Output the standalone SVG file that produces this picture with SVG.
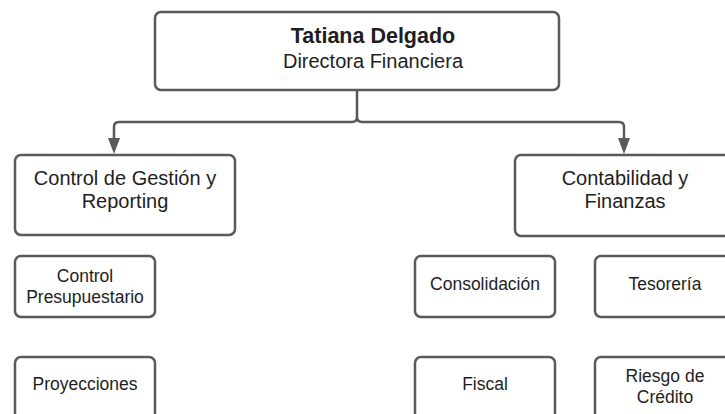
<svg xmlns="http://www.w3.org/2000/svg" width="725" height="414" viewBox="0 0 725 414">
<style>
.box{fill:#fff;stroke:#5a5a5a;stroke-width:2.5}
.t{font-family:"Liberation Sans",Arial,sans-serif;fill:#1e1e1e;text-anchor:middle}
.big{font-size:20px}
.sm{font-size:17.5px}
.con{fill:none;stroke:#5a5a5a;stroke-width:2.5}
</style>
<defs>
<marker id="arr" markerWidth="10" markerHeight="14" refX="5" refY="14" orient="auto-start-reverse" markerUnits="userSpaceOnUse" viewBox="0 0 10 14">
<path d="M0,0 L10,0 L5,14 Z" fill="#5a5a5a"/>
</marker>
</defs>
<rect width="725" height="414" fill="#fff"/>
<g id="connectors">
<path class="con" d="M357,90 V117 Q357,122 352,122 H119 Q114,122 114,127 V139"/>
<path class="con" d="M357,117 Q357,122 362,122 H619 Q624,122 624,127 V139"/>
<path d="M108,138 L120,138 L114,154 Z" fill="#5a5a5a"/>
<path d="M618,138 L630,138 L624,154 Z" fill="#5a5a5a"/>
</g>
<g id="director">
<rect class="box" x="155" y="12" width="404" height="78" rx="6"/>
<text class="t" x="373" y="43" font-size="21.5" font-weight="bold">Tatiana Delgado</text>
<text class="t big" x="373" y="68">Directora Financiera</text>
</g>
<g id="control-gestion">
<rect class="box" x="15" y="155" width="220" height="80" rx="6"/>
<text class="t big" x="125" y="185">Control de Gestión y</text>
<text class="t big" x="125" y="208">Reporting</text>
</g>
<g id="contabilidad">
<rect class="box" x="515" y="155" width="220" height="81" rx="6"/>
<text class="t big" x="625" y="185">Contabilidad y</text>
<text class="t big" x="625" y="208">Finanzas</text>
</g>
<g id="control-presupuestario">
<rect class="box" x="15" y="256" width="140" height="61" rx="6"/>
<text class="t sm" x="85" y="282">Control</text>
<text class="t sm" x="85" y="303">Presupuestario</text>
</g>
<g id="proyecciones">
<rect class="box" x="15" y="357" width="140" height="62" rx="6"/>
<text class="t sm" x="85" y="390">Proyecciones</text>
</g>
<g id="consolidacion">
<rect class="box" x="415" y="256" width="140" height="61" rx="6"/>
<text class="t sm" x="485" y="290">Consolidación</text>
</g>
<g id="tesoreria">
<rect class="box" x="595" y="256" width="141" height="61" rx="6"/>
<text class="t sm" x="665" y="290">Tesorería</text>
</g>
<g id="fiscal">
<rect class="box" x="415" y="357" width="140" height="62" rx="6"/>
<text class="t sm" x="485" y="390">Fiscal</text>
</g>
<g id="riesgo">
<rect class="box" x="595" y="357" width="141" height="62" rx="6"/>
<text class="t sm" x="665" y="382">Riesgo de</text>
<text class="t sm" x="665" y="403">Crédito</text>
</g>
</svg>
